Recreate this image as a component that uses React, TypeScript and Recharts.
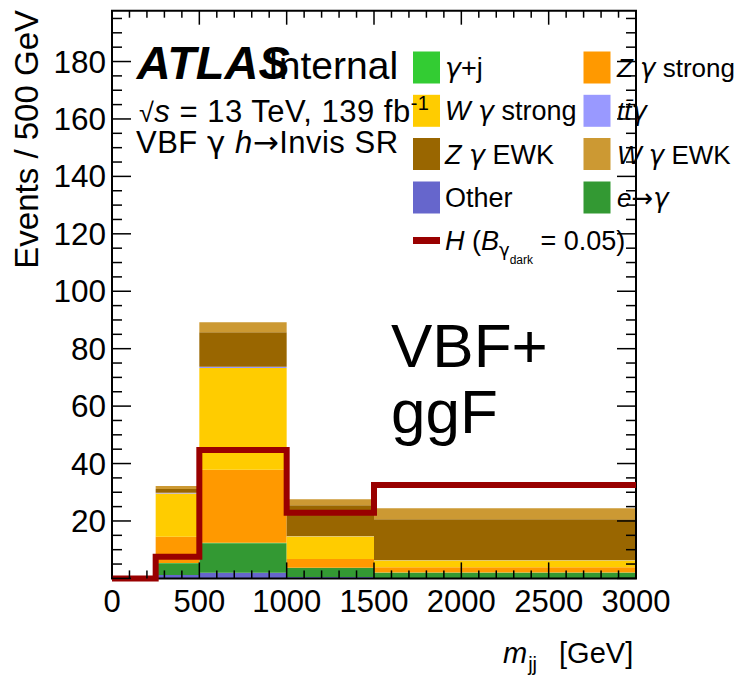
import React from 'react';
import { ComposedChart, Area, Line, XAxis, YAxis, ReferenceArea, Customized } from 'recharts';

// Bin edges in m_jj [GeV]
const binEdges = [0, 250, 500, 1000, 1500, 3000];
// Per-bin values for bins [250,500], [500,1000], [1000,1500], [1500,3000]
const otherVals = [1.2, 2.0, 0.5, 0.1];
const eFakeVals = [4.1, 10.2, 3.1, 1.9];
const gammaJetVals = [0.1, 0.2, 0.1, 0.05];
const zgStrongVals = [9.1, 25.4, 3.05, 1.85];
const wgStrongVals = [15.1, 35.5, 7.95, 2.45];
const ttgVals = [0.2, 0.4, 0.1, 0.05];
const zgEwkVals = [1.3, 12.0, 10.7, 14.2];
const wgEwkVals = [1.1, 3.5, 2.05, 3.8];
// Signal for bins [0,250], [250,500], [500,1000], [1000,1500], [1500,3000]
const signalVals = [0, 7.5, 44.7, 22.9, 32.5];

const xLabelTicks = [0, 500, 1000, 1500, 2000, 2500, 3000];
const yLabelTicks = [20, 40, 60, 80, 100, 120, 140, 160, 180];
const X_MAX = 3000;
const Y_MAX = 197.7;
const X_MINOR_STEP = 100;
const Y_MINOR_STEP = 5;

const xTicks: number[] = [];
for (let v = 0; v <= X_MAX; v += X_MINOR_STEP) xTicks.push(v);
const yTicks: number[] = [];
for (let v = 0; v <= 195; v += Y_MINOR_STEP) yTicks.push(v);

const stackSeries = [
  { key: 'other', color: '#6666cc', vals: otherVals },
  { key: 'efake', color: '#339933', vals: eFakeVals },
  { key: 'gj', color: '#33cc33', vals: gammaJetVals },
  { key: 'zgs', color: '#ff9900', vals: zgStrongVals },
  { key: 'wgs', color: '#ffcc00', vals: wgStrongVals },
  { key: 'ttg', color: '#9999ff', vals: ttgVals },
  { key: 'zgewk', color: '#996600', vals: zgEwkVals },
  { key: 'wgewk', color: '#cc9933', vals: wgEwkVals },
];

const rows = binEdges.map((x, i) => {
  const row: Record<string, number> = { x };
  const b = i === 0 ? -1 : Math.min(i - 1, 3);
  stackSeries.forEach((s) => {
    row[s.key] = b < 0 ? 0 : s.vals[b];
  });
  row.signal = signalVals[Math.min(i, signalVals.length - 1)];
  return row;
});

const PLOT = { left: 112, right: 636, top: 10.7, bottom: 578.4 };
const FONT = '"Liberation Sans", Arial, Helvetica, sans-serif';
const GREEK = '"DejaVu Sans", "Liberation Sans", sans-serif';

const YTick = (props: any) => {
  const { y, payload } = props;
  const v = payload.value;
  const major = v % 20 === 0;
  const len = major ? 19 : 10;
  return (
    <g>
      <line x1={PLOT.left} x2={PLOT.left + len} y1={y} y2={y} stroke="#000" strokeWidth={1.5} />
      <line x1={PLOT.right - len} x2={PLOT.right} y1={y} y2={y} stroke="#000" strokeWidth={1.5} />
      {major && yLabelTicks.includes(v) && (
        <text x={106} y={y} dy={11} textAnchor="end" fontSize={31.5} fontFamily={FONT} fill="#000">
          {v}
        </text>
      )}
    </g>
  );
};

const XTick = (props: any) => {
  const { x, payload } = props;
  const v = payload.value;
  const major = v % 500 === 0;
  const lenB = major ? 16 : 8;
  const lenT = major ? 14 : 7;
  return (
    <g>
      <line x1={x} x2={x} y1={PLOT.bottom - lenB} y2={PLOT.bottom} stroke="#000" strokeWidth={1.5} />
      <line x1={x} x2={x} y1={PLOT.top} y2={PLOT.top + lenT} stroke="#000" strokeWidth={1.5} />
      {xLabelTicks.includes(v) && (
        <text x={x} y={612} textAnchor="middle" fontSize={31} fontFamily={FONT} fill="#000">
          {v}
        </text>
      )}
    </g>
  );
};

const G = (props: { children: React.ReactNode }) => (
  <tspan fontFamily={GREEK} fontStyle="italic">{props.children}</tspan>
);

const legendCol1 = [
  { color: '#33cc33', label: (<><G>γ</G>+j</>) },
  { color: '#ffcc00', label: (<><tspan fontStyle="italic">W </tspan><G>γ</G> strong</>) },
  { color: '#996600', label: (<><tspan fontStyle="italic">Z </tspan><G>γ</G> EWK</>) },
  { color: '#6666cc', label: (<>Other</>) },
];
const legendCol2 = [
  { color: '#ff9900', label: (<><tspan fontStyle="italic">Z </tspan><G>γ</G> strong</>) },
  { color: '#9999ff', label: (<><tspan fontStyle="italic">tt̄</tspan><G>γ</G></>) },
  { color: '#cc9933', label: (<><tspan fontStyle="italic">W </tspan><G>γ</G> EWK</>) },
  { color: '#339933', label: (<><tspan fontStyle="italic">e</tspan><tspan fontFamily={GREEK}>→</tspan><G>γ</G></>) },
];
const LEG_ROW_Y = [67.5, 110.8, 154, 197.5];

const Overlay = () => (
  <g fontFamily={FONT} fill="#000">
    {legendCol1.map((e, i) => (
      <g key={'l1' + i}>
        <rect x={413} y={LEG_ROW_Y[i] - 16} width={27} height={32} fill={e.color} />
        <text x={445} y={LEG_ROW_Y[i] + 9.5} fontSize={27}>{e.label}</text>
      </g>
    ))}
    {legendCol2.map((e, i) => (
      <g key={'l2' + i}>
        <rect x={583.5} y={LEG_ROW_Y[i] - 16} width={27} height={32} fill={e.color} />
        <text x={617} y={LEG_ROW_Y[i] + 9.5} fontSize={26}>{e.label}</text>
      </g>
    ))}
    <line x1={413} x2={440} y1={240.5} y2={240.5} stroke="#990000" strokeWidth={7} />
    <text x={445} y={250} fontSize={27}>
      <tspan fontStyle="italic">H</tspan>
      <tspan> (</tspan>
      <tspan fontStyle="italic">B</tspan>
      <tspan fontSize={18} dy={6} fontFamily={GREEK}>γ</tspan>
      <tspan fontSize={12} dy={8}>dark</tspan>
      <tspan dy={-14}> = 0.05)</tspan>
    </text>

    <text x={136.7} y={79.3} fontSize={47} fontWeight="bold" fontStyle="italic">ATLAS</text>
    <text x={268} y={79.3} fontSize={39}>Internal</text>
    <text x={139} y={121.7} fontSize={31} letterSpacing={0.5}>
      <tspan fontSize={27}>√</tspan>
      <tspan fontStyle="italic">s</tspan>
      <tspan> = 13 TeV, 139 fb</tspan>
      <tspan fontSize={20} dy={-12}>-1</tspan>
    </text>
    <text x={136} y={153.3} fontSize={31} letterSpacing={0.5}>
      VBF <tspan fontFamily={GREEK}>γ</tspan> <tspan fontStyle="italic">h</tspan>
      <tspan fontFamily={GREEK}>→</tspan>Invis SR
    </text>

    <text x={391} y={366.7} fontSize={62}>VBF+</text>
    <text x={391} y={433.3} fontSize={62}>ggF</text>

    <text x={38} y={10} transform="rotate(-90 38 10)" textAnchor="end" fontSize={33}>
      Events / 500 GeV
    </text>
    <text x={503} y={663} fontSize={29}>
      <tspan fontStyle="italic">m</tspan>
      <tspan fontSize={20} dy={8} dx={1}>jj</tspan>
      <tspan dy={-8} dx={22}>[GeV]</tspan>
    </text>
  </g>
);

export default function App() {
  return (
    <div style={{ position: 'absolute', left: 0, top: 0, background: '#fff' }}>
      <ComposedChart
        width={737}
        height={680}
        data={rows}
        margin={{ top: PLOT.top, right: 737 - PLOT.right, bottom: 680 - PLOT.bottom - 60, left: PLOT.left - 100 }}
        style={{ fontFamily: FONT }}
      >
        {stackSeries.map((s) => (
          <Area
            key={s.key}
            dataKey={s.key}
            stackId="bkg"
            type="stepAfter"
            fill={s.color}
            fillOpacity={1}
            stroke="none"
            dot={false}
            activeDot={false}
            isAnimationActive={false}
          />
        ))}
        <Line
          dataKey="signal"
          type="stepAfter"
          stroke="#990000"
          strokeWidth={6}
          strokeLinejoin="miter"
          strokeLinecap="butt"
          dot={false}
          activeDot={false}
          isAnimationActive={false}
        />
        <XAxis
          dataKey="x"
          type="number"
          domain={[0, X_MAX]}
          ticks={xTicks}
          interval={0}
          tickLine={false}
          axisLine={false}
          height={60}
          tick={<XTick />}
        />
        <YAxis
          type="number"
          domain={[0, Y_MAX]}
          ticks={yTicks}
          interval={0}
          tickLine={false}
          axisLine={false}
          width={100}
          tick={<YTick />}
        />
        <ReferenceArea x1={0} x2={X_MAX} y1={0} y2={Y_MAX} fill="none" stroke="#000" strokeWidth={2} ifOverflow="visible" />
        <Customized component={Overlay} />
      </ComposedChart>
    </div>
  );
}
